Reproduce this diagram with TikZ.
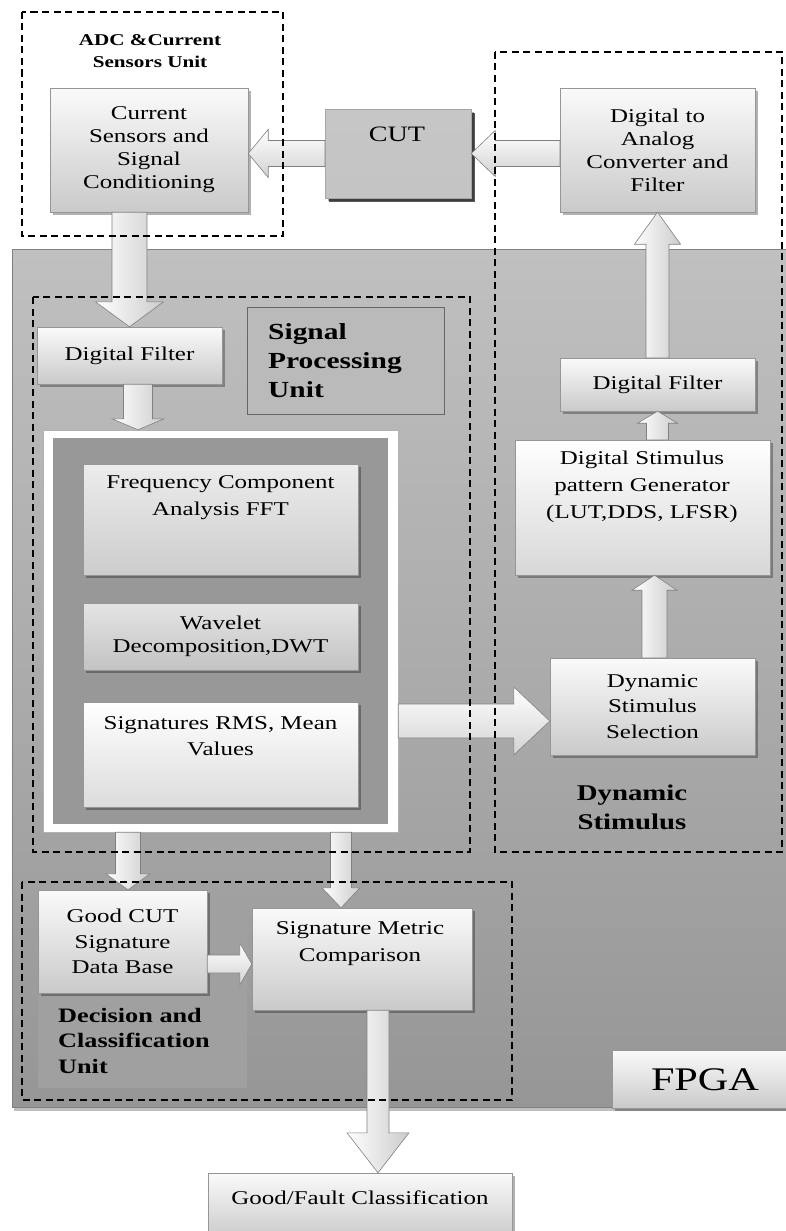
\documentclass[tikz,border=0pt]{standalone}
\usepackage{fontspec}
\setmainfont{Liberation Serif}[FakeStretch=1.28]
\usetikzlibrary{calc,shadows}
\definecolor{bgtop}{RGB}{192,192,192}
\definecolor{bgbot}{RGB}{150,150,150}
\definecolor{boxtop}{RGB}{250,250,250}
\definecolor{boxbot}{RGB}{202,202,202}
\definecolor{innergray}{RGB}{152,152,152}
\definecolor{cuttop}{RGB}{198,198,198}
\definecolor{cutmid}{RGB}{176,176,176}
\definecolor{cutbot}{RGB}{196,196,196}
\definecolor{spufill}{RGB}{186,186,186}
\definecolor{declight}{RGB}{160,160,160}
\definecolor{edgegray}{RGB}{150,150,150}
\newcommand\myfz[2]{\fontsize{#1}{#2}\selectfont}
\newcommand\blockarrow[6][]{%
  \path[#1] let \p1=(#2), \p2=(#3), \n1={atan2(\y2-\y1,\x2-\x1)} in
    ($(\p1)+(\n1+90:#4)$) -- ($(\p2)+(\n1+180:#6)+(\n1+90:#4)$)
    -- ($(\p2)+(\n1+180:#6)+(\n1+90:#5)$) -- (\p2)
    -- ($(\p2)+(\n1+180:#6)+(\n1-90:#5)$) -- ($(\p2)+(\n1+180:#6)+(\n1-90:#4)$)
    -- ($(\p1)+(\n1-90:#4)$) -- cycle;}
\tikzset{
  box/.style={draw=edgegray, line width=0.4pt, top color=boxtop, bottom color=boxbot,
    inner sep=0pt, align=center, font=\myfz{19.5}{23},
    drop shadow={shadow xshift=3pt, shadow yshift=-3pt, fill=black, opacity=0.3}},
  txt/.style={inner sep=0pt, align=center, font=\myfz{19.5}{26}},
  frame/.style={draw=black, line width=1.5pt, dash pattern=on 7pt off 4.5pt},
  barrow/.style={draw=gray, line width=0.6pt},
  harrow/.style={barrow, top color=white, bottom color=gray!35},
  varrow/.style={barrow, left color=white, right color=gray!40},
}
\begin{document}
\begin{tikzpicture}[x=1pt,y=-1pt]
\useasboundingbox (0,0) rectangle (786,1231);
% FPGA background
\node[draw=gray, line width=0.8pt, top color=bgtop, bottom color=bgbot, minimum width=774pt, minimum height=858pt, inner sep=0pt,
  drop shadow={shadow xshift=2pt, shadow yshift=-4pt, fill=black, opacity=0.25}] (fpga) at (399,678) {};
\fill[declight] (38,890) rectangle (247,1088);
\node[draw=gray!80!black, line width=0.5pt, fill=spufill, minimum width=197pt, minimum height=107pt, inner sep=0pt] (spubox) at (345.5,360.5) {};
% white frame box
\node[fill=white, draw=gray!60, line width=0.4pt, minimum width=355pt, minimum height=402pt, inner sep=0pt] (wb) at (220.5,631) {};
\fill[innergray] (53,438) rectangle (388,824);
% boxes
\node[box, minimum width=198pt, minimum height=124pt] (cs) at (149,150) {Current\\Sensors and\\Signal\\Conditioning};
\node[box, draw=gray!70, top color=cuttop, middle color=cutmid, bottom color=cutbot, minimum width=146pt, minimum height=89pt,
  drop shadow={shadow xshift=4pt, shadow yshift=-4pt, fill=black, opacity=0.65}] (cut) at (398,153.5) {};
\node[box, minimum width=195pt, minimum height=124pt] (dac) at (657.5,150) {Digital to\\Analog\\Converter and\\Filter};
\node[box, minimum width=185pt, minimum height=57pt] (dfl) at (129.5,355.5) {Digital Filter};
\node[box, top color={rgb,255:red,236;green,236;blue,236}, bottom color={rgb,255:red,205;green,205;blue,205}, minimum width=275pt, minimum height=111pt] (fft) at (220.5,519.5) {};
\node[box, top color={rgb,255:red,228;green,228;blue,228}, bottom color={rgb,255:red,195;green,195;blue,195}, minimum width=275pt, minimum height=67pt] (dwt) at (220.5,636.5) {Wavelet\\Decomposition,DWT};
\node[box, top color=white, bottom color={rgb,255:red,220;green,220;blue,220}, minimum width=275pt, minimum height=105pt] (sig) at (220.5,754.5) {};
\node[box, minimum width=195pt, minimum height=53pt] (dfr) at (657.5,384.5) {Digital Filter};
\node[box, top color=white, bottom color={rgb,255:red,215;green,215;blue,215}, minimum width=255pt, minimum height=135pt] (gen) at (642.5,507.5) {};
\node[box, font=\myfz{19.5}{25.5}, minimum width=205pt, minimum height=97pt] (dss) at (652.5,706.5) {Dynamic\\Stimulus\\Selection};
\node[box, font=\myfz{19.5}{25.5}, minimum width=169pt, minimum height=103pt] (goodcut) at (122.5,941.5) {Good CUT\\Signature\\Data Base};
\node[box, minimum width=220pt, minimum height=102pt] (smc) at (362,959) {};
\node[box, minimum width=304pt, minimum height=66pt] (gf) at (360,1206) {};
\node[box, minimum width=178pt, minimum height=58pt] (fpgalbl) at (701,1079) {};
% arrow anchor coordinates
\coordinate (a4s) at ($(dfl.south)+(8.5,0)$);
\coordinate (a5e) at ($(dss.west)+(0,14.5)$);
\coordinate (a6s) at ($(dss.north)+(2,0)$);
\coordinate (a9e) at ($(goodcut.north)+(5.5,0)$);
\coordinate (a10e) at ($(smc.north)+(-21,0)$);
\coordinate (a11s) at ($(goodcut.east)+(0,22.5)$);
\coordinate (a12s) at ($(smc.south)+(16,0)$);
% block arrows
\blockarrow[harrow]{cut.west}{cut.west -| cs.east}{13pt}{24pt}{20pt}
\blockarrow[harrow]{cut.east -| dac.west}{cut.east}{13pt}{23pt}{24pt}
\blockarrow[varrow]{dfl.north |- cs.south}{dfl.north}{17.5pt}{34pt}{25pt}
\blockarrow[varrow]{a4s}{a4s |- wb.north}{14.5pt}{26pt}{11pt}
\blockarrow[harrow]{a5e -| wb.east}{a5e}{17pt}{34pt}{36pt}
\blockarrow[varrow]{a6s}{a6s |- gen.south}{12.5pt}{22.5pt}{15pt}
\blockarrow[varrow]{dfr.south |- gen.north}{dfr.south}{11pt}{20pt}{12pt}
\blockarrow[varrow]{dfr.north}{dac.south}{11.5pt}{23pt}{32pt}
\blockarrow[varrow]{a9e |- wb.south}{a9e}{12.5pt}{22pt}{16pt}
\blockarrow[varrow]{a10e |- wb.south}{a10e}{10.5pt}{19pt}{20pt}
\blockarrow[harrow]{a11s}{a11s -| smc.west}{9pt}{21pt}{12pt}
\blockarrow[varrow]{a12s}{a12s |- gf.north}{11pt}{31pt}{40pt}
% dashed frames
\draw[frame] (22,12) rectangle (283,236);
\draw[frame] (495,52) rectangle (782,852);
\draw[frame] (33,297) rectangle (470,852);
\draw[frame] (22,882) rectangle (512,1100);
% texts
\node[txt, font=\bfseries\myfz{16.5}{22}] (adclbl) at (150,51) {ADC \&Current\\Sensors Unit};
\node[txt, font=\myfz{22}{26}] (cuttxt) at (397,134) {CUT};
\node[txt, align=left, anchor=west, font=\bfseries\myfz{23}{29}] (spulbl) at (268,361) {Signal\\Processing\\Unit};
\node[txt, font=\myfz{19.5}{27}] (ffttxt) at (220.5,497.5) {Frequency Component\\Analysis FFT};
\node[txt, font=\myfz{19.5}{26}] (sigtxt) at (220.5,736) {Signatures RMS, Mean\\Values};
\node[txt, font=\myfz{19.5}{27}] (gentxt) at (642,486.5) {Digital Stimulus\\pattern Generator\\(LUT,DDS, LFSR)};
\node[txt, font=\bfseries\myfz{22.5}{29}] (dynlbl) at (632,807.5) {Dynamic\\Stimulus};
\node[txt, font=\myfz{19.5}{27}] (smctxt) at (360,943.5) {Signature Metric\\Comparison};
\node[txt, align=left, anchor=west, font=\bfseries\myfz{20.5}{25.5}] (declbl) at (58,1040.5) {Decision and\\Classification\\Unit};
\node[txt] (gftxt) at (360,1198) {Good/Fault Classification};
\node[txt, font=\myfz{33}{36}] (fpgatxt) at (705,1080) {FPGA};
\end{tikzpicture}
\end{document}
